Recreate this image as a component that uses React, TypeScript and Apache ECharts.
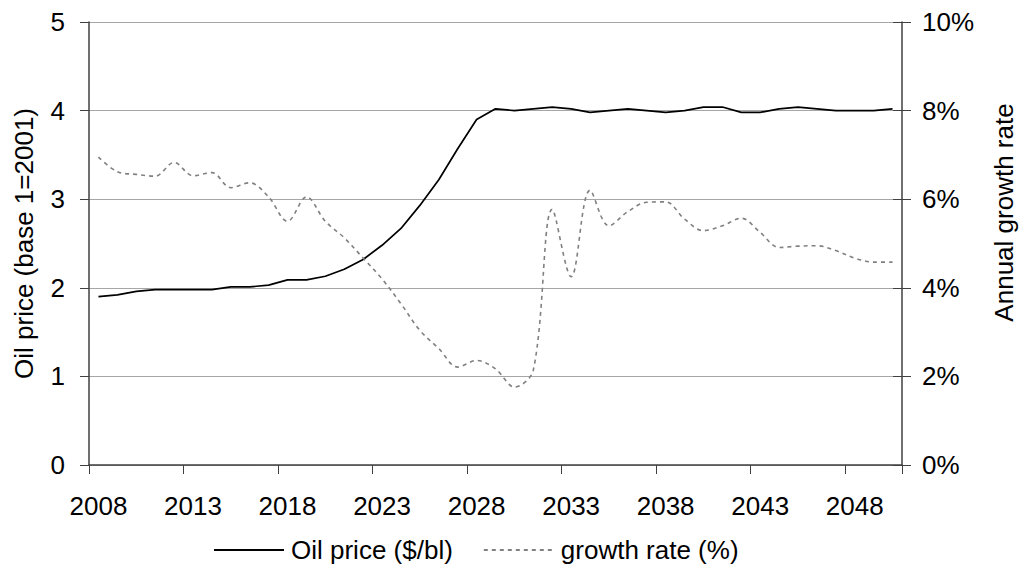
import React, { useEffect, useRef } from "react";
import * as echarts from "echarts";

const years: string[] = [
  "2008","2009","2010","2011","2012","2013","2014","2015","2016","2017",
  "2018","2019","2020","2021","2022","2023","2024","2025","2026","2027",
  "2028","2029","2030","2031","2032","2033","2034","2035","2036","2037",
  "2038","2039","2040","2041","2042","2043","2044","2045","2046","2047",
  "2048","2049","2050",
];

const oilPrice: number[] = [
  1.90, 1.92, 1.96, 1.98, 1.98, 1.98, 1.98, 2.01, 2.01, 2.03,
  2.09, 2.09, 2.13, 2.21, 2.32, 2.48, 2.67, 2.93, 3.22, 3.57,
  3.90, 4.02, 4.00, 4.02, 4.04, 4.02, 3.98, 4.00, 4.02, 4.00,
  3.98, 4.00, 4.04, 4.04, 3.98, 3.98, 4.02, 4.04, 4.02, 4.00,
  4.00, 4.00, 4.02,
];

const growthRate: number[] = [
  6.95, 6.62, 6.56, 6.52, 6.83, 6.53, 6.60, 6.26, 6.37, 6.05,
  5.50, 6.05, 5.50, 5.13, 4.67, 4.20, 3.64, 3.04, 2.63, 2.21,
  2.36, 2.17, 1.76, 2.14, 5.77, 4.25, 6.20, 5.40, 5.72, 5.93,
  5.94, 5.55, 5.29, 5.40, 5.57, 5.25, 4.91, 4.94, 4.95, 4.84,
  4.67, 4.58, 4.58,
];

const leftTicks = { min: 0, max: 5, interval: 1 };
const rightTicks = { min: 0, max: 10, interval: 2 };

const FONT = "'Liberation Sans', Arial, sans-serif";

export default function App() {
  const ref = useRef<HTMLDivElement>(null);

  useEffect(() => {
    if (!ref.current) return;
    const chart = echarts.init(ref.current, undefined, { renderer: "svg" });
    const axisColor = "#404040";
    chart.setOption({
      animation: false,
      backgroundColor: "#ffffff",
      textStyle: { fontFamily: FONT, color: "#000" },
      grid: { left: 89, right: 122, top: 22, bottom: 101, containLabel: false },
      legend: {
        left: 213,
        top: 537,
        itemWidth: 70,
        itemHeight: 14,
        itemGap: 30,
        padding: 0,
        itemStyle: { opacity: 0 },
        textStyle: { fontSize: 26, fontFamily: FONT, color: "#000", padding: [0, 0, 0, 2] },
        data: ["Oil price ($/bl)", "growth rate (%)"],
      },
      xAxis: {
        type: "category",
        data: years,
        boundaryGap: true,
        axisLine: { show: true, lineStyle: { color: axisColor, width: 1.5 } },
        axisTick: { show: true, interval: 4, length: 9, lineStyle: { color: axisColor, width: 1 } },
        axisLabel: { interval: 4, fontSize: 26, color: "#000", margin: 28, fontFamily: FONT },
        splitLine: { show: false },
      },
      yAxis: [
        {
          type: "value",
          position: "left",
          min: leftTicks.min,
          max: leftTicks.max,
          interval: leftTicks.interval,
          name: "Oil price (base 1=2001)",
          nameLocation: "middle",
          nameRotate: 90,
          nameGap: 52,
          nameTextStyle: { fontSize: 26, color: "#000", fontFamily: FONT },
          axisLine: { show: true, lineStyle: { color: axisColor, width: 1.5 } },
          axisTick: { show: true, length: 9, lineStyle: { color: axisColor, width: 1 } },
          axisLabel: { fontSize: 26, color: "#000", margin: 24, fontFamily: FONT },
          splitLine: { show: true, lineStyle: { color: "#a6a6a6", width: 1 } },
        },
        {
          type: "value",
          position: "right",
          min: rightTicks.min,
          max: rightTicks.max,
          interval: rightTicks.interval,
          name: "Annual growth rate",
          nameLocation: "middle",
          nameRotate: 90,
          nameGap: 89,
          nameTextStyle: { fontSize: 26, color: "#000", fontFamily: FONT, padding: [0, 0, 0, 62] },
          axisLine: { show: true, lineStyle: { color: axisColor, width: 1.5 } },
          axisTick: { show: true, length: 9, lineStyle: { color: axisColor, width: 1 } },
          axisLabel: { fontSize: 26, color: "#000", margin: 20, fontFamily: FONT, formatter: "{value}%" },
          splitLine: { show: false },
        },
        {
          type: "value",
          position: "right",
          min: rightTicks.min,
          max: rightTicks.max,
          interval: rightTicks.interval,
          axisLine: { show: false },
          axisTick: { show: true, inside: true, length: 9, lineStyle: { color: axisColor, width: 1 } },
          axisLabel: { show: false },
          splitLine: { show: false },
        },
      ],
      series: [
        {
          name: "Oil price ($/bl)",
          type: "line",
          yAxisIndex: 0,
          data: oilPrice,
          symbol: "none",
          smooth: false,
          lineStyle: { color: "#000000", width: 1.7 },
          itemStyle: { color: "#000000" },
        },
        {
          name: "growth rate (%)",
          type: "line",
          yAxisIndex: 1,
          data: growthRate,
          symbol: "none",
          smooth: 0.35,
          lineStyle: { color: "#808080", width: 1.6, type: [4, 4] },
          itemStyle: { color: "#808080" },
        },
      ],
    });
    return () => chart.dispose();
  }, []);

  return (
    <div
      ref={ref}
      style={{ position: "fixed", left: 0, top: 0, width: 1025, height: 566, background: "#fff" }}
    />
  );
}
